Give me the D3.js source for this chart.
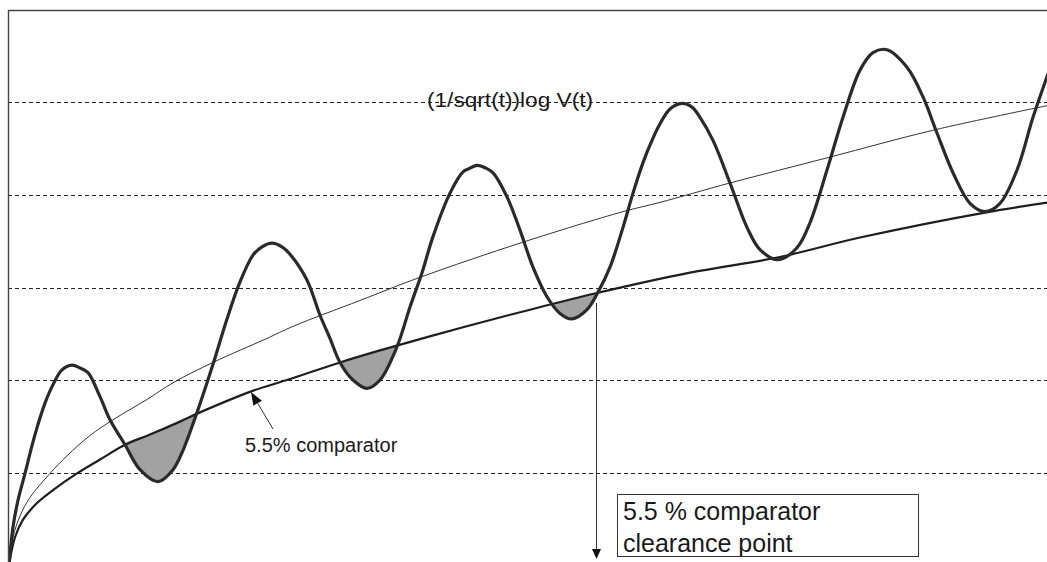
<!DOCTYPE html>
<html>
<head>
<meta charset="utf-8">
<script src="https://cdn.jsdelivr.net/npm/d3@7"></script>
<style>
  html, body { margin: 0; padding: 0; background: #fff; }
  svg { display: block; }
  text { font-family: "Liberation Sans", Arial, sans-serif; fill: #1a1a1a; }
</style>
</head>
<body>
<svg id="chart" width="1047" height="562"></svg>
<script>
// Time axis values (t) and the three series sampled along it.
const oscT = [0, 0.4, 0.9, 1.6, 2.3, 2.9, 3.6, 4.4, 5.3, 6.3, 7.1, 7.9, 9.1, 10.1, 11.6, 13.1, 14.9, 16.4, 17.4, 18.9,
  20.4, 21.8, 23.1, 24.4, 25.3, 26.3, 27.3, 28.1, 29.8, 31.1, 32.1, 33.1, 34.4, 35.8, 37.1, 38.8, 40.1, 41.3, 42.4,
  44.1, 45.4, 45.9, 46.8, 47.7, 48.4, 49.8, 51.1, 52.4, 53.8, 55.1, 56.3, 57.8, 58.9, 60.1, 61.4, 62.4, 63.4, 64.3,
  65.1, 66.1, 67.3, 68.3, 69.1, 70.4, 72.1, 73.8, 75.1, 76.9, 78.8, 80.1, 81.8, 83.4, 85.1, 86.4, 87.8, 89.8, 91.4,
  92.8, 94.4, 96.1, 97.6, 99.1, 100.8, 102.4, 104];
const oscV = [0, 0.41, 0.70, 0.99, 1.29, 1.52, 1.75, 1.95, 2.11, 2.16, 2.13, 2.08, 1.82, 1.57, 1.30, 1.03, 0.90, 1.03, 1.24, 1.68,
  2.17, 2.66, 3.06, 3.35, 3.44, 3.48, 3.44, 3.36, 3.08, 2.70, 2.45, 2.19, 2.00, 1.91, 2.00, 2.36, 2.79, 3.16, 3.55,
  4.02, 4.25, 4.28, 4.32, 4.29, 4.24, 3.98, 3.62, 3.22, 2.90, 2.72, 2.66, 2.76, 2.95, 3.22, 3.65, 4.02, 4.35, 4.59,
  4.77, 4.93, 4.99, 4.95, 4.84, 4.59, 4.13, 3.65, 3.41, 3.30, 3.43, 3.70, 4.27, 4.84, 5.35, 5.54, 5.57, 5.38, 5.06,
  4.67, 4.24, 3.91, 3.82, 3.91, 4.27, 4.84, 5.34];

// 5.5% comparator
const compT = [0, 0.6, 1.4, 2.8, 4.4, 6.8, 9.1, 11.6, 14.1, 17.1, 19.1, 24.3, 27.8, 33.1, 37.1, 45.4, 52.1,
  58.8, 68.1, 77.1, 85.1, 97.6, 104];
const compV = [0, 0.30, 0.49, 0.67, 0.81, 0.99, 1.14, 1.30, 1.41, 1.55, 1.65, 1.88, 2.00, 2.19, 2.32, 2.57, 2.76,
  2.94, 3.16, 3.33, 3.54, 3.81, 3.92];

// (1/sqrt(t)) log V(t)
const logT = [0, 0.4, 1.1, 2.1, 4.1, 5.8, 8.1, 10.4, 13.8, 16.4, 20.4, 25.8, 28.4, 35.1, 41.1, 51.4, 61.4,
  65.1, 72.1, 82.1, 92.4, 104];
const logV = [0, 0.30, 0.53, 0.73, 0.99, 1.18, 1.40, 1.57, 1.79, 1.97, 2.19, 2.45, 2.58, 2.86, 3.11, 3.49, 3.82,
  3.92, 4.13, 4.41, 4.70, 4.97];

const gridValues = [1, 2, 3, 4, 5];
const curveLabel = "(1/sqrt(t))log V(t)";
const comparatorLabel = "5.5% comparator";
const clearanceLines = ["5.5 % comparator", "clearance point"];
const comparatorArrowT = 24.2;   // where the comparator label points
const clearanceT = 58.65;        // clearance point on the time axis

const svg = d3.select("#chart");
const W = 1047, H = 562;

const x = d3.scaleLinear().domain([0, 104]).range([9, 1049]);
const y = d3.scaleLinear().domain([0, 6]).range([565, 10]);

const zip = (ts, vs) => ts.map((t, i) => [t, vs[i]]);
const osc = zip(oscT, oscV);
const comp = zip(compT, compV);
const logv = zip(logT, logV);

const curve = d3.curveCatmullRom.alpha(0.5);
const line = d3.line().x(d => x(d[0])).y(d => y(d[1])).curve(curve);

const defs = svg.append("defs");
defs.append("clipPath").attr("id", "plotClip")
  .append("rect").attr("x", 8).attr("y", 10).attr("width", W - 8).attr("height", H);

// region lying below the comparator
defs.append("clipPath").attr("id", "belowComp")
  .append("path")
  .attr("d", d3.area().x(d => x(d[0])).y0(H + 20).y1(d => y(d[1])).curve(curve)(comp));

// gridlines
svg.append("g").selectAll("line").data(gridValues).join("line")
  .attr("x1", 8).attr("x2", W)
  .attr("y1", d => Math.round(y(d)) + 0.5).attr("y2", d => Math.round(y(d)) + 0.5)
  .attr("stroke", "#222").attr("stroke-width", 1).attr("stroke-dasharray", "4,3");

const plot = svg.append("g").attr("clip-path", "url(#plotClip)");

// shortfall: region above the oscillating curve and below the comparator
plot.append("path")
  .attr("d", d3.area().x(d => x(d[0])).y0(-20).y1(d => y(d[1])).curve(curve)(osc))
  .attr("clip-path", "url(#belowComp)")
  .attr("fill", "#a2a2a2");

plot.append("path").attr("d", line(logv))
  .attr("fill", "none").attr("stroke", "#333").attr("stroke-width", 1);

plot.append("path").attr("d", line(comp))
  .attr("fill", "none").attr("stroke", "#1e1e1e").attr("stroke-width", 2.2);

plot.append("path").attr("d", line(osc))
  .attr("fill", "none").attr("stroke", "#2a2a2a").attr("stroke-width", 3.2)
  .attr("stroke-linejoin", "round");

// frame (top and left edges)
svg.append("line").attr("x1", 8).attr("x2", W).attr("y1", 10.5).attr("y2", 10.5)
  .attr("stroke", "#444").attr("stroke-width", 1.4);
svg.append("line").attr("x1", 8.5).attr("x2", 8.5).attr("y1", 10).attr("y2", H)
  .attr("stroke", "#444").attr("stroke-width", 1.4);

// curve label
svg.append("text").attr("x", 427).attr("y", 107)
  .attr("font-size", 20).attr("textLength", 166).attr("lengthAdjust", "spacingAndGlyphs")
  .text(curveLabel);

// arrow helper: line from tail to tip with a filled head
function arrow(x0, y0, x1, y1, headLen, headHalf) {
  const dx = x1 - x0, dy = y1 - y0, L = Math.hypot(dx, dy);
  const ux = dx / L, uy = dy / L;
  const bx = x1 - ux * headLen, by = y1 - uy * headLen;
  svg.append("line").attr("x1", x0).attr("y1", y0).attr("x2", bx).attr("y2", by)
    .attr("stroke", "#333").attr("stroke-width", 1);
  svg.append("path")
    .attr("d", `M${x1},${y1}L${bx - uy * headHalf},${by + ux * headHalf}L${bx + uy * headHalf},${by - ux * headHalf}Z`)
    .attr("fill", "#111");
}

// comparator label and its pointer
const tipX = x(comparatorArrowT), tipY = y(1.87);
arrow(tipX + 22, tipY + 37, tipX, tipY, 13, 5);
svg.append("text").attr("x", 245).attr("y", 452).attr("font-size", 20).text(comparatorLabel);

// clearance point arrow
const cx = Math.round(x(clearanceT)) + 0.5;
arrow(cx, 303, cx, y(0.065), 10, 4.5);

// clearance label box
svg.append("rect").attr("x", 617.5).attr("y", 494.5).attr("width", 301).attr("height", 62)
  .attr("fill", "#fff").attr("stroke", "#333").attr("stroke-width", 1);
svg.append("g").selectAll("text").data(clearanceLines).join("text")
  .attr("x", 623).attr("y", (d, i) => 520 + i * 32)
  .attr("font-size", 25).text(d => d);
</script>
</body>
</html>
